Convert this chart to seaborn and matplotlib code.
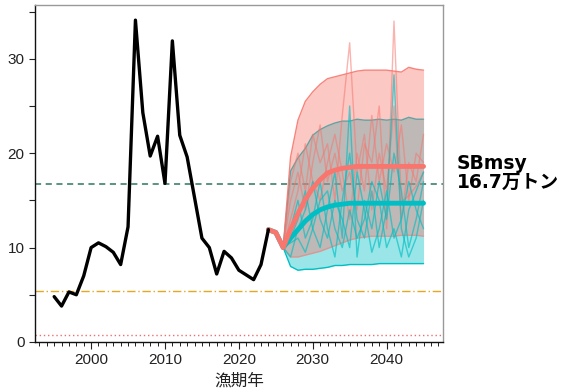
import numpy as np
import pandas as pd
import matplotlib
matplotlib.use("Agg")
import matplotlib.pyplot as plt
from matplotlib.ticker import MultipleLocator
import seaborn as sns

sns.set_style("ticks")
plt.rcParams['font.family'] = 'sans-serif'
plt.rcParams['font.sans-serif'] = ['Liberation Sans', 'DejaVu Sans']

# Historical spawning biomass (万トン)
hist_years = list(range(1995, 2025))
hist_sb = [4.8, 3.8, 5.3, 5.0, 7.0, 10.0, 10.5, 10.1, 9.5, 8.2,
           12.2, 34.1, 24.3, 19.7, 21.8, 16.8, 31.9, 21.9, 19.6, 15.3,
           11.0, 10.0, 7.2, 9.6, 8.9, 7.6, 7.1, 6.6, 8.2, 11.9]

# Projections
proj_years = list(range(2024, 2046))
med_red = [11.9, 11.6, 10.0, 11.9, 13.6, 15.1, 16.3, 17.2, 17.9, 18.2, 18.4,
           18.5, 18.6, 18.6, 18.6, 18.6, 18.6, 18.6, 18.6, 18.6, 18.6, 18.6]
med_teal = [11.9, 11.6, 10.0, 11.0, 11.9, 12.8, 13.5, 14.0, 14.3, 14.5, 14.6,
            14.7, 14.7, 14.7, 14.7, 14.7, 14.7, 14.7, 14.7, 14.7, 14.7, 14.7]

band_years = list(range(2026, 2046))
red_hi = [10.0, 19.6, 23.5, 25.5, 26.5, 27.3, 27.9, 28.1, 28.3, 28.5,
          28.7, 28.8, 28.8, 28.8, 28.8, 28.7, 28.6, 29.1, 28.9, 28.8]
red_lo = [10.0, 9.0, 9.0, 9.2, 9.4, 9.6, 9.9, 10.2, 10.5, 10.8,
          11.0, 11.1, 11.2, 11.2, 11.2, 11.2, 11.3, 11.3, 11.3, 11.2]
teal_hi = [10.0, 18.1, 19.5, 20.5, 21.9, 22.5, 22.9, 23.2, 23.4, 23.4,
           23.6, 23.5, 23.5, 23.6, 23.5, 23.6, 23.5, 23.8, 23.6, 23.6]
teal_lo = [10.0, 8.0, 7.6, 7.7, 7.7, 7.8, 7.9, 8.1, 8.1, 8.2,
           8.2, 8.2, 8.2, 8.3, 8.3, 8.3, 8.3, 8.3, 8.3, 8.3]

# Individual simulated trajectories
red_runs = {
    "r1": [10, 17, 20, 16, 22, 19, 21, 15, 24, 31.7, 18, 22, 14, 20, 16, 25, 13, 19, 17, 22],
    "r2": [10, 15, 18, 14, 19, 23, 17, 20, 16, 18, 14, 21, 19, 25, 12, 34, 14.8, 15.5, 16.5, 18],
    "r3": [10, 13, 16, 21, 17, 15, 19, 22, 18, 13, 20, 16, 24, 17, 21, 18, 23, 15, 20, 19],
}
teal_runs = {
    "t1": [10, 12, 15, 11, 13, 17, 12, 9, 15, 20, 13, 11, 16, 10, 14, 28.3, 12, 9, 11, 15],
    "t2": [10, 11, 13, 16, 12, 10, 14, 18, 11, 25, 9, 15, 12, 17, 13, 20, 16, 10, 13, 17],
    "t3": [10, 9, 12, 14, 17, 13, 11, 15, 13, 10, 18, 14, 9.5, 12, 16, 11, 13, 17, 14, 12],
    "t4": [10, 10.5, 11, 9.5, 12, 15, 16, 12, 10, 14, 11, 13, 17, 15, 10, 12, 9, 14, 16, 18],
}

sb_msy = 16.7
sb_limit = 5.4
sb_ban = 0.7

RED = "#F8766D"
TEAL = "#00BFC4"
CJK = ["Noto Sans CJK JP", "DejaVu Sans"]

fig = plt.figure(figsize=(5.64, 3.89), dpi=100)
ax = fig.add_axes([0.062, 0.121, 0.723, 0.866])

# Reference levels
ax.axhline(sb_msy, color="#2E7560", ls=(0, (4, 3)), lw=1.1, zorder=1)
ax.axhline(sb_limit, color="#E5A823", ls=(0, (6, 2, 1, 2)), lw=1.0, zorder=1)
ax.axhline(sb_ban, color="#E87070", ls=(0, (1, 2)), lw=1.0, zorder=1)

# Prediction intervals
ax.fill_between(band_years, teal_lo, teal_hi, color=TEAL, alpha=0.4, lw=0, zorder=2)
ax.plot(band_years, teal_hi, color=TEAL, lw=1.0, zorder=2)
ax.plot(band_years, teal_lo, color=TEAL, lw=1.0, zorder=2)
ax.fill_between(band_years, red_lo, red_hi, color=RED, alpha=0.4, lw=0, zorder=3)
ax.plot(band_years, red_hi, color=RED, lw=1.0, alpha=0.9, zorder=3)
ax.plot(band_years, red_lo, color=RED, lw=1.0, alpha=0.5, zorder=3)

# Individual trajectories
runs = []
for name, vals in red_runs.items():
    runs.append(pd.DataFrame({"year": band_years, "sb": vals, "run": name, "sc": "red"}))
for name, vals in teal_runs.items():
    runs.append(pd.DataFrame({"year": band_years, "sb": vals, "run": name, "sc": "teal"}))
runs = pd.concat(runs)
sns.lineplot(data=runs[runs.sc == "red"], x="year", y="sb", units="run", estimator=None,
             color=RED, lw=1.0, alpha=0.55, ax=ax, zorder=4)
sns.lineplot(data=runs[runs.sc == "teal"], x="year", y="sb", units="run", estimator=None,
             color=TEAL, lw=1.0, alpha=0.65, ax=ax, zorder=4)

# Medians
sns.lineplot(x=proj_years, y=med_teal, color=TEAL, lw=3.5, ax=ax, zorder=5)
sns.lineplot(x=proj_years, y=med_red, color=RED, lw=3.5, ax=ax, zorder=6)

# Historical
sns.lineplot(x=hist_years, y=hist_sb, color="black", lw=2.4, ax=ax, zorder=7)

ax.set_xlim(1992.4, 2047.6)
ax.set_ylim(0, 35.7)
ax.xaxis.set_major_locator(MultipleLocator(10))
ax.xaxis.set_minor_locator(MultipleLocator(1))
ax.yaxis.set_major_locator(MultipleLocator(10))
ax.yaxis.set_minor_locator(MultipleLocator(5))
ax.tick_params(axis="x", which="major", length=5, width=0.8, labelsize=11, colors="#222222", pad=3)
ax.tick_params(axis="x", which="minor", length=3, width=0.7, colors="#222222")
ax.tick_params(axis="y", which="both", length=4, width=0.8, labelsize=11, colors="#222222")
ax.set_xlabel("漁期年", fontsize=12, color="#222222", labelpad=4, family=CJK)
ax.set_ylabel("")

for s in ["left", "bottom"]:
    ax.spines[s].set_color("#111111")
    ax.spines[s].set_linewidth(1.0)
for s in ["top", "right"]:
    ax.spines[s].set_visible(True)
    ax.spines[s].set_color("#999999")
    ax.spines[s].set_linewidth(1.0)

fig.text(0.810, 0.555, "SBmsy\n16.7万トン", fontsize=13.5, fontweight="bold",
         color="black", va="center", ha="left", linespacing=1.0,
         family=["DejaVu Sans", "Noto Sans CJK JP"])

fig.savefig("out.png", dpi=100)
